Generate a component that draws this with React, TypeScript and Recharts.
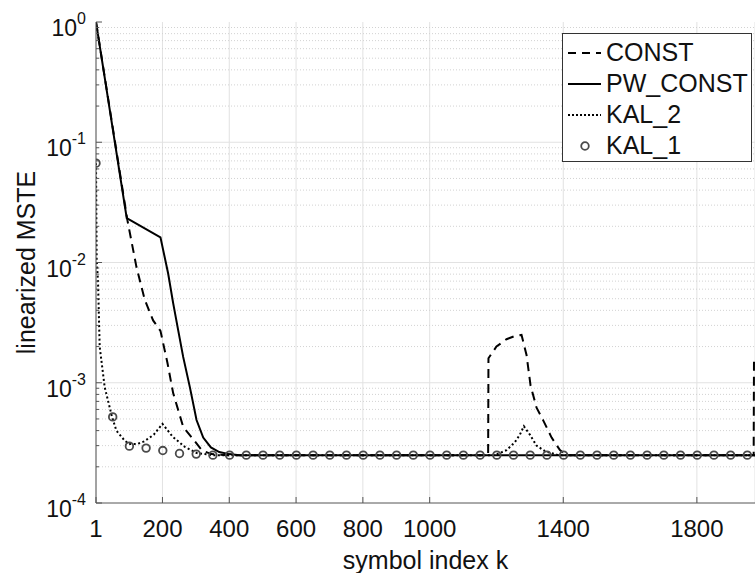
import React from 'react'
import {
  ComposedChart,
  Line,
  XAxis,
  YAxis,
  CartesianGrid,
  ReferenceLine,
  Legend
} from 'recharts'

// CONST
const constK = [1, 95, 122, 147, 172, 194, 215, 232, 262, 288, 318, 346, 400, 1175, 1176, 1200, 1230, 1255, 1275, 1290, 1302, 1320, 1341, 1365, 1390, 1410, 1970, 1971]
const constV = [1, 0.0225, 0.0092, 0.0049, 0.0033, 0.0027, 0.00146, 0.00082, 0.00043, 0.00035, 0.000275, 0.000255, 0.00025, 0.00025, 0.0016, 0.002, 0.0023, 0.00245, 0.0025, 0.0017, 0.00095, 0.00062, 0.00048, 0.00035, 0.000275, 0.00025, 0.00025, 0.0016]

// PW_CONST
const pwK = [1, 93, 194, 217, 232, 247, 262, 282, 302, 322, 345, 370, 400, 430, 1974]
const pwV = [1, 0.0234, 0.0162, 0.0081, 0.0046, 0.00274, 0.00164, 0.00092, 0.00049, 0.00035, 0.00029, 0.000265, 0.000255, 0.00025, 0.00025]

// KAL_2
const kal2K = [1, 3, 7, 12, 27, 49, 62, 87, 100, 125, 145, 174, 200, 231, 267, 303, 350, 1195, 1230, 1255, 1270, 1282, 1300, 1320, 1345, 1385, 1974]
const kal2V = [0.067, 0.0105, 0.007, 0.002, 0.00092, 0.00052, 0.0004, 0.00033, 0.00031, 0.00031, 0.000325, 0.00037, 0.000455, 0.000355, 0.000293, 0.00026, 0.00025, 0.00025, 0.000275, 0.00032, 0.00037, 0.000435, 0.00037, 0.0003, 0.00027, 0.00025, 0.00025]

// KAL_1 (markers only)
const kal1K = [1, 51, 101, 151, 201, 251, 301, 351, 401, 451, 501, 551, 601, 651, 701, 751, 801, 851, 901, 951, 1001, 1051, 1101, 1151, 1201, 1251, 1301, 1351, 1401, 1451, 1501, 1551, 1601, 1651, 1701, 1751, 1801, 1851, 1901, 1951]
const kal1V = [0.067, 0.00052, 0.000297, 0.000286, 0.000273, 0.000258, 0.000255, 0.00025, 0.00025, 0.00025, 0.00025, 0.00025, 0.00025, 0.00025, 0.00025, 0.00025, 0.00025, 0.00025, 0.00025, 0.00025, 0.00025, 0.00025, 0.00025, 0.00025, 0.00025, 0.00025, 0.00025, 0.00025, 0.00025, 0.00025, 0.00025, 0.00025, 0.00025, 0.00025, 0.00025, 0.00025, 0.00025, 0.00025, 0.00025, 0.00025]

const xTicks = [1, 200, 400, 600, 800, 1000, 1400, 1800]
const yMajor = [1e-4, 1e-3, 1e-2, 1e-1, 1]
const yExp = ['-4', '-3', '-2', '-1', '0']
const minorMult = [2, 3, 4, 5, 6, 7, 8, 9]

const FONT = '"Liberation Sans", Arial, Helvetica, sans-serif'
const AXIS = '#555'
const GRID = '#e2e2e2'
const MINOR = '#d2d2d2'
const MARK = '#4a4a4a'

const toRows = (ks: number[], vs: number[]) => ks.map((k, i) => ({ k, v: vs[i] }))
const constData = toRows(constK, constV)
const pwData = toRows(pwK, pwV)
const kal2Data = toRows(kal2K, kal2V)
const kal1Data = toRows(kal1K, kal1V)

const yMinor = yMajor.slice(0, 4).flatMap((d) => minorMult.map((m) => m * d))
const yTicks = [...yMajor, ...yMinor].sort((a, b) => a - b)

function YTick({ x, y, payload }: any) {
  const i = yMajor.indexOf(payload.value)
  if (i < 0) return <line x1={x} y1={y} x2={x + 3} y2={y} stroke={AXIS} />
  return (
    <g>
      <line x1={x} y1={y} x2={x + 6} y2={y} stroke={AXIS} />
      <text x={x - 10} y={y + 14} textAnchor="end" fontSize={23} fontFamily={FONT} fill="#111">
        10<tspan dy={-12} fontSize={16}>{yExp[i]}</tspan>
      </text>
    </g>
  )
}

function XTick({ x, y, payload }: any) {
  return (
    <g>
      <line x1={x} y1={y} x2={x} y2={y - 6} stroke={AXIS} />
      <text x={x} y={y + 34} textAnchor="middle" fontSize={24} fontFamily={FONT} fill="#111">
        {payload.value}
      </text>
    </g>
  )
}

function TopTick({ x, y }: any) {
  return <line x1={x} y1={y} x2={x} y2={y + 6} stroke={AXIS} />
}

function XLabel({ viewBox }: any) {
  const { x, y, width } = viewBox
  return (
    <text x={x + width / 2} y={y + 66} textAnchor="middle" fontSize={25} fontFamily={FONT} fill="#111">
      symbol index k
    </text>
  )
}

function YLabel({ viewBox }: any) {
  const { x, y, height } = viewBox
  const cx = x + 26
  const cy = y + height / 2
  return (
    <text x={cx} y={cy} transform={`rotate(-90 ${cx} ${cy})`} textAnchor="middle" dominantBaseline="central" fontSize={25} fontFamily={FONT} fill="#111">
      linearized MSTE
    </text>
  )
}

const legendRows = [
  { name: 'CONST', kind: 'dash' },
  { name: 'PW_CONST', kind: 'solid' },
  { name: 'KAL_2', kind: 'dot' },
  { name: 'KAL_1', kind: 'marker' }
]

function LegendBox() {
  return (
    <div
      style={{
        width: 190,
        height: 129,
        boxSizing: 'border-box',
        border: '1px solid #333',
        background: '#fff',
        paddingTop: 3,
        fontFamily: FONT,
        fontSize: 25,
        color: '#111'
      }}
    >
      {legendRows.map((r) => (
        <div key={r.name} style={{ height: 31, display: 'flex', alignItems: 'center' }}>
          <svg width={38} height={12} style={{ marginLeft: 5 }}>
            {r.kind === 'dash' && <line x1={0} y1={6} x2={33} y2={6} stroke="#000" strokeWidth={2} strokeDasharray="8 6" />}
            {r.kind === 'solid' && <line x1={0} y1={6} x2={33} y2={6} stroke="#000" strokeWidth={2} />}
            {r.kind === 'dot' && <line x1={0} y1={6} x2={33} y2={6} stroke="#000" strokeWidth={2} strokeDasharray="2 2" />}
            {r.kind === 'marker' && <circle cx={17} cy={6} r={3.8} fill="none" stroke={MARK} strokeWidth={1.8} />}
          </svg>
          <span style={{ lineHeight: '31px' }}>{r.name}</span>
        </div>
      ))}
    </div>
  )
}

export default function App() {
  return (
    <div style={{ position: 'absolute', left: 0, top: 0, width: 755, height: 573, background: '#fff' }}>
      <ComposedChart width={755} height={573} margin={{ top: 22, right: 0, bottom: 0, left: 0 }}>
        <CartesianGrid horizontal={false} stroke={GRID} />
        <XAxis
          type="number"
          dataKey="k"
          domain={[1, 1974]}
          allowDataOverflow
          ticks={xTicks}
          interval={0}
          height={70}
          tickSize={0}
          tickMargin={0}
          tickLine={false}
          stroke={AXIS}
          tick={<XTick />}
          label={<XLabel />}
        />
        <XAxis
          xAxisId="top"
          orientation="top"
          type="number"
          dataKey="k"
          domain={[1, 1974]}
          allowDataOverflow
          ticks={xTicks}
          interval={0}
          height={0}
          tickSize={0}
          tickMargin={0}
          tickLine={false}
          stroke={AXIS}
          tick={<TopTick />}
        />
        <YAxis
          type="number"
          dataKey="v"
          scale="log"
          domain={[1e-4, 1]}
          allowDataOverflow
          ticks={yTicks}
          interval={0}
          width={96}
          tickSize={0}
          tickMargin={0}
          tickLine={false}
          stroke={AXIS}
          tick={<YTick />}
          label={<YLabel />}
        />
        {yMinor.map((v) => (
          <ReferenceLine key={'m' + v} y={v} stroke={MINOR} strokeDasharray="1 2" />
        ))}
        {yMajor.slice(1, 4).map((v) => (
          <ReferenceLine key={'M' + v} y={v} stroke={GRID} />
        ))}
        <Line data={constData} dataKey="v" type="linear" stroke="#000" strokeWidth={2} strokeDasharray="9 6" dot={false} isAnimationActive={false} name="CONST" />
        <Line data={pwData} dataKey="v" type="linear" stroke="#000" strokeWidth={2} dot={false} isAnimationActive={false} name="PW_CONST" />
        <Line data={kal2Data} dataKey="v" type="linear" stroke="#000" strokeWidth={2} strokeDasharray="2 2.5" dot={false} isAnimationActive={false} name="KAL_2" />
        <Line
          data={kal1Data}
          dataKey="v"
          type="linear"
          stroke="none"
          strokeWidth={0}
          dot={{ r: 3.8, fill: 'none', stroke: MARK, strokeWidth: 1.8 }}
          isAnimationActive={false}
          name="KAL_1"
        />
        <Legend layout="vertical" align="center" verticalAlign="middle" wrapperStyle={{ left: 562, top: 33 }} content={<LegendBox />} />
      </ComposedChart>
    </div>
  )
}
